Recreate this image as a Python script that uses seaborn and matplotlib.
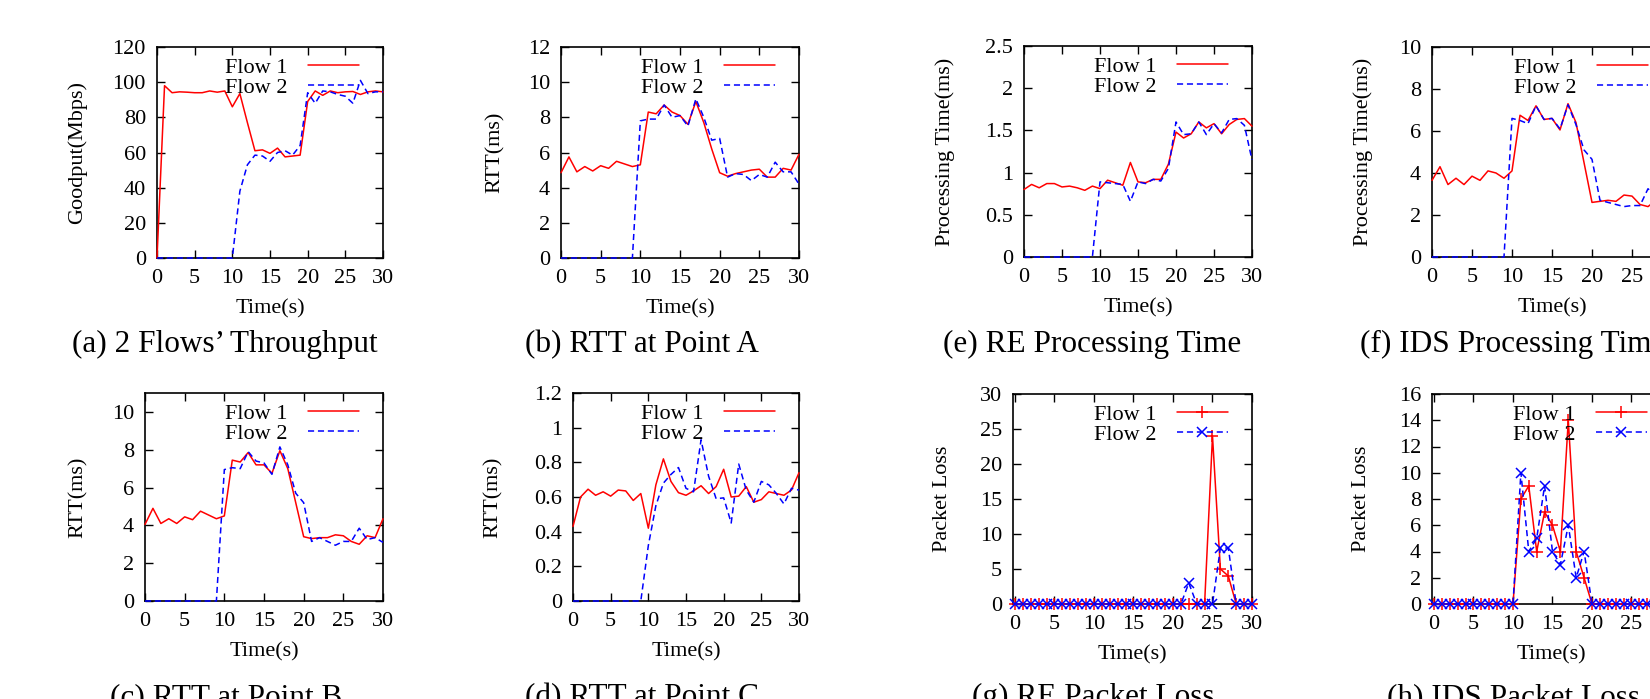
import matplotlib
matplotlib.use('Agg')
import matplotlib.pyplot as plt
import seaborn as sns
from matplotlib.ticker import MultipleLocator, FuncFormatter

# time axis (seconds)
t = list(range(31))

# (a) goodput, Mbps
a_flow1 = [0, 98, 94, 94.5, 94.3, 94, 94, 95, 94.3, 95, 86, 93.5, 77, 61, 61.5, 59.5,
           62.5, 57.5, 58, 58.5, 89, 95, 92.5, 95, 94, 94.5, 94.7, 93, 94.5, 95, 94.5]
a_flow2 = [0, 0, 0, 0, 0, 0, 0, 0, 0, 0, 0, 38, 53, 58.5, 58, 55,
           60, 61, 58.5, 64, 94, 88, 95, 94.5, 93, 92, 88, 101, 93.5, 94.5, 94.5]

# (b) RTT at point A, ms
b_flow1 = [4.85, 5.75, 4.9, 5.2, 4.95, 5.25, 5.1, 5.5, 5.35, 5.2, 5.3, 8.3, 8.2, 8.7, 8.3, 8.1,
           7.6, 8.9, 7.7, 6.2, 4.85, 4.65, 4.8, 4.9, 5.0, 5.05, 4.6, 4.6, 5.1, 5.0, 5.9]
b_flow2 = [0, 0, 0, 0, 0, 0, 0, 0, 0, 0, 7.8, 7.9, 7.9, 8.7, 8.0, 8.1,
           7.5, 9.05, 8.0, 6.7, 6.8, 4.6, 4.8, 4.75, 4.4, 4.75, 4.6, 5.45, 4.9, 4.9, 4.2]

# (e) RE processing time, ms
e_flow1 = [0.80, 0.86, 0.82, 0.87, 0.87, 0.83, 0.84, 0.82, 0.79, 0.84, 0.81, 0.91, 0.88, 0.85, 1.12, 0.89,
           0.88, 0.92, 0.92, 1.10, 1.48, 1.41, 1.46, 1.60, 1.53, 1.58, 1.46, 1.57, 1.63, 1.64, 1.55]
e_flow2 = [0, 0, 0, 0, 0, 0, 0, 0, 0, 0, 0.89, 0.88, 0.87, 0.86, 0.66, 0.89,
           0.87, 0.92, 0.90, 1.05, 1.60, 1.45, 1.46, 1.60, 1.45, 1.58, 1.47, 1.63, 1.64, 1.56, 1.15]

# (f) IDS processing time, ms
f_flow1 = [3.65, 4.3, 3.45, 3.75, 3.45, 3.85, 3.65, 4.1, 4.0, 3.75, 4.1, 6.75, 6.5, 7.2, 6.55, 6.6,
           6.05, 7.3, 6.4, 4.5, 2.6, 2.65, 2.7, 2.65, 2.95, 2.9, 2.5, 2.4, 2.7, 2.6, 2.8]
f_flow2 = [0, 0, 0, 0, 0, 0, 0, 0, 0, 0, 6.6, 6.5, 6.35, 7.2, 6.55, 6.6,
           6.1, 7.25, 6.3, 5.1, 4.65, 2.7, 2.6, 2.5, 2.4, 2.45, 2.45, 3.25, 2.9, 2.8, 3.0]

# (c) RTT at point B, ms
c_flow1 = [4.05, 4.9, 4.1, 4.35, 4.1, 4.45, 4.3, 4.75, 4.55, 4.35, 4.5, 7.45, 7.35, 7.85, 7.2, 7.2,
           6.75, 7.95, 7.0, 5.2, 3.4, 3.3, 3.35, 3.35, 3.5, 3.45, 3.15, 3.0, 3.45, 3.35, 4.35]
c_flow2 = [0, 0, 0, 0, 0, 0, 0, 0, 0, 0, 6.95, 7.05, 7.0, 7.9, 7.4, 7.3,
           6.7, 8.15, 7.2, 5.7, 5.2, 3.15, 3.35, 3.15, 2.95, 3.15, 3.15, 3.85, 3.25, 3.35, 3.1]

# (d) RTT at point C, ms
d_flow1 = [0.43, 0.60, 0.645, 0.61, 0.63, 0.605, 0.64, 0.635, 0.58, 0.62, 0.42, 0.67, 0.82, 0.69, 0.625, 0.61,
           0.635, 0.665, 0.62, 0.66, 0.76, 0.60, 0.605, 0.66, 0.57, 0.585, 0.63, 0.62, 0.61, 0.64, 0.74]
d_flow2 = [0, 0, 0, 0, 0, 0, 0, 0, 0, 0, 0.32, 0.55, 0.68, 0.73, 0.77, 0.65,
           0.63, 0.93, 0.72, 0.59, 0.595, 0.45, 0.79, 0.64, 0.57, 0.69, 0.67, 0.62, 0.56, 0.65, 0.64]

# (g) RE packet loss
g_flow1 = [0, 0, 0, 0, 0, 0, 0, 0, 0, 0, 0, 0, 0, 0, 0, 0,
           0, 0, 0, 0, 0, 0, 0, 0, 0, 24, 5, 4, 0, 0, 0]
g_flow2 = [0, 0, 0, 0, 0, 0, 0, 0, 0, 0, 0, 0, 0, 0, 0, 0,
           0, 0, 0, 0, 0, 0, 3, 0, 0, 0, 8, 8, 0, 0, 0]

# (h) IDS packet loss
h_flow1 = [0, 0, 0, 0, 0, 0, 0, 0, 0, 0, 0, 8, 9, 4, 7, 6,
           4, 14, 4, 2, 0, 0, 0, 0, 0, 0, 0, 0, 0, 0, 0]
h_flow2 = [0, 0, 0, 0, 0, 0, 0, 0, 0, 0, 0, 10, 4, 5, 9, 4,
           3, 6, 2, 4, 0, 0, 0, 0, 0, 0, 0, 0, 0, 0, 0]

sns.set_theme(style='ticks', rc={'axes.edgecolor': 'black', 'xtick.color': 'black',
                                 'ytick.color': 'black', 'text.color': 'black',
                                 'axes.labelcolor': 'black'})
plt.rcParams['font.family'] = ['Liberation Serif', 'DejaVu Serif']

W, H = 1650, 699
fig = plt.figure(figsize=(W / 100, H / 100), dpi=100)

RED, BLUE = '#ff0000', '#0000ff'
FS = 16

# box = (left, right, top, bottom) in pixels
panels = [
    dict(box=(157, 383, 47, 258), ylabel='Goodput(Mbps)', ylim=120, step=20, ylab_x=77,
         cap='(a) 2 Flows\u2019 Throughput', cap_x=72, cap_y=352, f1=a_flow1, f2=a_flow2, mark=False),
    dict(box=(561, 799, 47, 258), ylabel='RTT(ms)', ylim=12, step=2, ylab_x=495,
         cap='(b) RTT at Point A', cap_x=525, cap_y=352, f1=b_flow1, f2=b_flow2, mark=False),
    dict(box=(1024, 1252, 46, 257), ylabel='Processing Time(ms)', ylim=2.5, step=0.5, ylab_x=945,
         cap='(e) RE Processing Time', cap_x=943, cap_y=352, f1=e_flow1, f2=e_flow2, mark=False),
    dict(box=(1432, 1672, 47, 257), ylabel='Processing Time(ms)', ylim=10, step=2, ylab_x=1363,
         cap='(f) IDS Processing Time', cap_x=1360, cap_y=352, f1=f_flow1, f2=f_flow2, mark=False),
    dict(box=(145, 383, 393, 601), ylabel='RTT(ms)', ylim=11, step=2, ylab_x=78,
         cap='(c) RTT at Point B', cap_x=110, cap_y=705, f1=c_flow1, f2=c_flow2, mark=False),
    dict(box=(573, 799, 393, 601), ylabel='RTT(ms)', ylim=1.2, step=0.2, ylab_x=493,
         cap='(d) RTT at Point C', cap_x=525, cap_y=705, f1=d_flow1, f2=d_flow2, mark=False),
    dict(box=(1013, 1252, 394, 604), ylabel='Packet Loss', ylim=30, step=5, ylab_x=943,
         cap='(g) RE Packet Loss', cap_x=972, cap_y=705, f1=g_flow1, f2=g_flow2, mark=True),
    dict(box=(1432, 1671, 394, 604), ylabel='Packet Loss', ylim=16, step=2, ylab_x=1362,
         cap='(h) IDS Packet Loss', cap_x=1387, cap_y=705, f1=h_flow1, f2=h_flow2, mark=True),
]

for p in panels:
    l, r, top, b = p['box']
    ax = fig.add_axes([l / W, 1 - b / H, (r - l) / W, (b - top) / H])

    kw1 = dict(color=RED, linewidth=1.1, clip_on=False)
    kw2 = dict(color=BLUE, linewidth=1.1, linestyle=(0, (4, 2.5)), clip_on=False)
    if p['mark']:
        kw1.update(marker='+', markersize=8.5, markeredgecolor=RED, markeredgewidth=1.1)
        kw2.update(marker='x', markersize=7, markeredgecolor=BLUE, markeredgewidth=1.1)
    sns.lineplot(x=t, y=p['f1'], ax=ax, label='Flow 1', zorder=5, **kw1)
    sns.lineplot(x=t, y=p['f2'], ax=ax, label='Flow 2', zorder=6, **kw2)

    ax.set_xlim(-0.25 if p['mark'] else 0, 30)
    ax.set_ylim(0, p['ylim'])
    ax.xaxis.set_major_locator(MultipleLocator(5))
    ax.yaxis.set_major_locator(MultipleLocator(p['step']))
    ax.yaxis.set_major_formatter(FuncFormatter(lambda v, _: f'{v:g}'))
    ax.tick_params(direction='in', length=5.5, width=1.0, top=True, right=True,
                   labelsize=FS, pad=8)
    for s in ax.spines.values():
        s.set_linewidth(1.2)
        s.set_color('black')

    ax.set_xlabel('Time(s)', fontsize=FS, labelpad=8)
    ax.set_ylabel(p['ylabel'], fontsize=FS, va='center')
    ax.yaxis.set_label_coords((p['ylab_x'] - l) / (r - l), 0.5)

    ax.legend(loc='upper right', bbox_to_anchor=((r - 24) / W, 1 - (top + 10) / H),
              bbox_transform=fig.transFigure, frameon=False, markerfirst=False,
              handlelength=2.3, handletextpad=0.9, labelspacing=0.0,
              borderpad=0, borderaxespad=0, fontsize=FS)

    fig.text(p['cap_x'] / W, 1 - p['cap_y'] / H, p['cap'], fontsize=22.5,
             ha='left', va='baseline')

fig.savefig('out.png', dpi=100)
